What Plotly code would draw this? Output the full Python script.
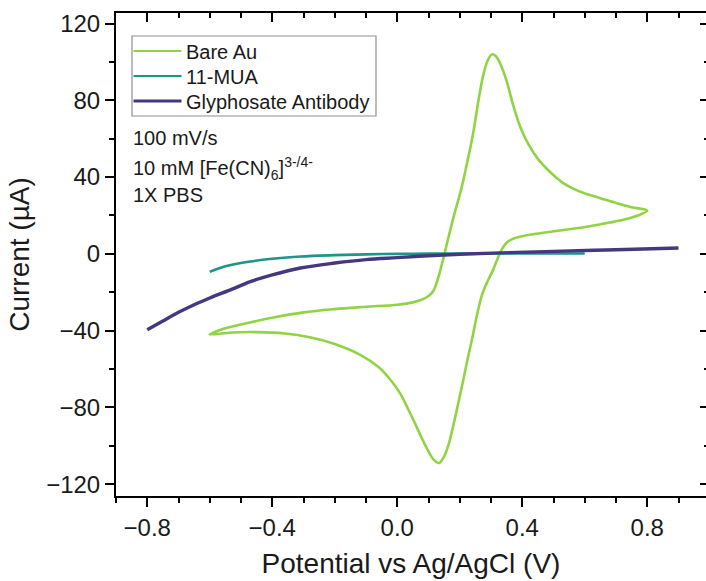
import plotly.graph_objects as go

# ---------------- data ----------------
bare_au_potential = [
    -0.60, -0.58, -0.55, -0.50, -0.45, -0.40, -0.30, -0.20, -0.10, 0.00, 0.05,
    0.08, 0.10, 0.115, 0.13, 0.145, 0.16, 0.18, 0.205, 0.225, 0.243, 0.26,
    0.275, 0.29, 0.304, 0.318, 0.335, 0.352, 0.37, 0.394, 0.42, 0.45, 0.49,
    0.53, 0.563, 0.60, 0.65, 0.70, 0.75, 0.80,
    0.77, 0.73, 0.68, 0.62, 0.55, 0.49, 0.44, 0.40, 0.37, 0.35, 0.335, 0.32,
    0.305, 0.29, 0.272, 0.255, 0.24, 0.225, 0.211, 0.195, 0.18, 0.165, 0.15,
    0.134, 0.118, 0.10, 0.08, 0.06, 0.035, 0.01, -0.02, -0.06, -0.12, -0.20,
    -0.28, -0.36, -0.45, -0.53, -0.60,
]
bare_au_current = [
    -42.0, -40.5, -38.8, -36.8, -35.0, -33.3, -30.5, -28.8, -27.6, -26.5, -25.3,
    -23.8, -22.0, -19.5, -13.0, -4.0, 6.0, 19.0, 34.0, 48.5, 63.0, 80.0,
    93.0, 101.0, 104.0, 102.5, 97.0, 89.0, 78.0, 66.0, 57.0, 49.5, 42.5,
    37.0, 34.0, 31.5, 29.0, 26.5, 24.3, 22.5,
    20.0, 18.0, 16.3, 14.5, 12.8, 11.5, 10.3, 9.2, 7.8, 5.8, 2.5, -3.0,
    -9.0, -14.0, -21.0, -32.0, -44.0, -55.0, -66.0, -78.0, -89.0, -99.0, -105.5,
    -109.0, -107.5, -103.0, -96.5, -89.5, -81.0, -73.0, -66.0, -59.0, -52.5, -47.0,
    -43.5, -41.5, -40.8, -41.0, -42.0,
]

mua_potential = [-0.60, -0.55, -0.47, -0.40, -0.31, -0.20, -0.10, 0.00, 0.10, 0.20, 0.30, 0.40, 0.50, 0.60]
mua_current = [-9.4, -6.5, -4.0, -2.6, -1.4, -0.7, -0.3, 0.0, 0.1, 0.2, 0.2, 0.2, 0.2, 0.2]

antibody_potential = [-0.80, -0.75, -0.70, -0.65, -0.60, -0.53, -0.47, -0.40, -0.31, -0.20, -0.10, 0.00, 0.10, 0.20, 0.33, 0.50, 0.70, 0.90]
antibody_current = [-39.6, -35.0, -30.5, -26.5, -23.0, -18.5, -14.5, -11.0, -7.4, -4.8, -3.0, -2.0, -1.0, -0.2, 0.5, 1.3, 2.1, 3.0]

series_names = ["Bare Au", "11-MUA", "Glyphosate Antibody"]
annotation_lines = ["100 mV/s", "10 mM [Fe(CN)<sub>6</sub>]<sup>3-/4-</sup>", "1X PBS"]

x_title = "Potential vs Ag/AgCl (V)"
y_title = "Current (µA)"

# ---------------- styling ----------------
FONT = "Liberation Sans, Arial, sans-serif"
TXT = "#1a1a1a"
colors = ["#90D443", "#1F9488", "#45387F"]
widths = [2.6, 2.6, 3.4]

W, H = 706, 581
ML, MR, MT, MB = 116, 0, 13, 85
PW, PH = W - ML - MR, H - MT - MB


def px_x(px):
    return (px - ML) / PW


def px_y(py):
    return 1 - (py - MT) / PH


fig = go.Figure()
series = [(bare_au_potential, bare_au_current), (mua_potential, mua_current),
          (antibody_potential, antibody_current)]
for (xs, ys), name, c, w in zip(series, series_names, colors, widths):
    fig.add_trace(go.Scatter(x=xs, y=ys, mode="lines", name=name, showlegend=False,
                             line=dict(color=c, width=w, shape="spline", smoothing=1.0)))
# empty trace so the mirrored top/right axes are drawn
fig.add_trace(go.Scatter(x=[], y=[], xaxis="x2", yaxis="y2", showlegend=False, hoverinfo="skip"))

XR = [-0.9, 0.988]
YR = [-126.2, 125.5]

common = dict(showgrid=False, zeroline=False, linecolor="black", linewidth=2,
              tickcolor="black", tickwidth=2)

fig.update_layout(
    width=W, height=H,
    margin=dict(l=ML, r=MR, t=MT, b=MB),
    paper_bgcolor="white", plot_bgcolor="white",
    font=dict(family=FONT, color=TXT, size=24),
    xaxis=dict(range=XR, showline=True, ticks="outside", ticklen=9,
               tick0=-0.8, dtick=0.4, tickformat=".1f",
               tickfont=dict(size=24, color=TXT),
               minor=dict(dtick=0.1, tick0=-0.8, ticks="outside", ticklen=5,
                          tickwidth=2, tickcolor="black"),
               title=dict(text=x_title, font=dict(size=28, color=TXT), standoff=14),
               **common),
    yaxis=dict(range=YR, showline=True, ticks="outside", ticklen=9,
               tick0=0, dtick=40,
               tickfont=dict(size=24, color=TXT),
               minor=dict(dtick=20, tick0=0, ticks="outside", ticklen=5,
                          tickwidth=2, tickcolor="black"),
               title=dict(text=y_title, font=dict(size=28, color=TXT), standoff=8),
               **common),
    xaxis2=dict(range=XR, overlaying="x", side="top", anchor="y", showline=True,
                ticks="inside", ticklen=9, tick0=-0.8, dtick=0.4, showticklabels=False,
                minor=dict(dtick=0.1, tick0=-0.8, ticks="inside", ticklen=5,
                           tickwidth=2, tickcolor="black"),
                **common),
    yaxis2=dict(range=YR, overlaying="y", side="right", anchor="x", showline=False,
                ticks="inside", ticklen=6, tick0=0, dtick=40, showticklabels=False,
                minor=dict(dtick=20, tick0=0, ticks="inside", ticklen=2,
                           tickwidth=2, tickcolor="black"),
                **common),
    showlegend=False,
)

# ---- legend box (drawn to match the reference's Origin-style legend) ----
fig.add_shape(type="rect", xref="paper", yref="paper",
              x0=px_x(132), x1=px_x(376), y0=px_y(116), y1=px_y(36),
              line=dict(color="#8f8f8f", width=1.2), fillcolor="white", layer="above")
row_py = [51, 76, 101]
for name, c, w, ry in zip(series_names, colors, widths, row_py):
    fig.add_shape(type="line", xref="paper", yref="paper",
                  x0=px_x(133.5), x1=px_x(181.5), y0=px_y(ry), y1=px_y(ry),
                  line=dict(color=c, width=w - 0.4), layer="above")
    fig.add_annotation(text=name, xref="paper", yref="paper", x=px_x(184), y=px_y(ry + 1),
                       xanchor="left", yanchor="middle", showarrow=False,
                       font=dict(size=20, color=TXT, family=FONT))

ann_py = [138, 168, 195]
for txt, py in zip(annotation_lines, ann_py):
    fig.add_annotation(text=txt, xref="paper", yref="paper", x=px_x(131), y=px_y(py),
                       xanchor="left", yanchor="middle", showarrow=False,
                       font=dict(size=20, color=TXT, family=FONT))

fig.write_html("out.html")
